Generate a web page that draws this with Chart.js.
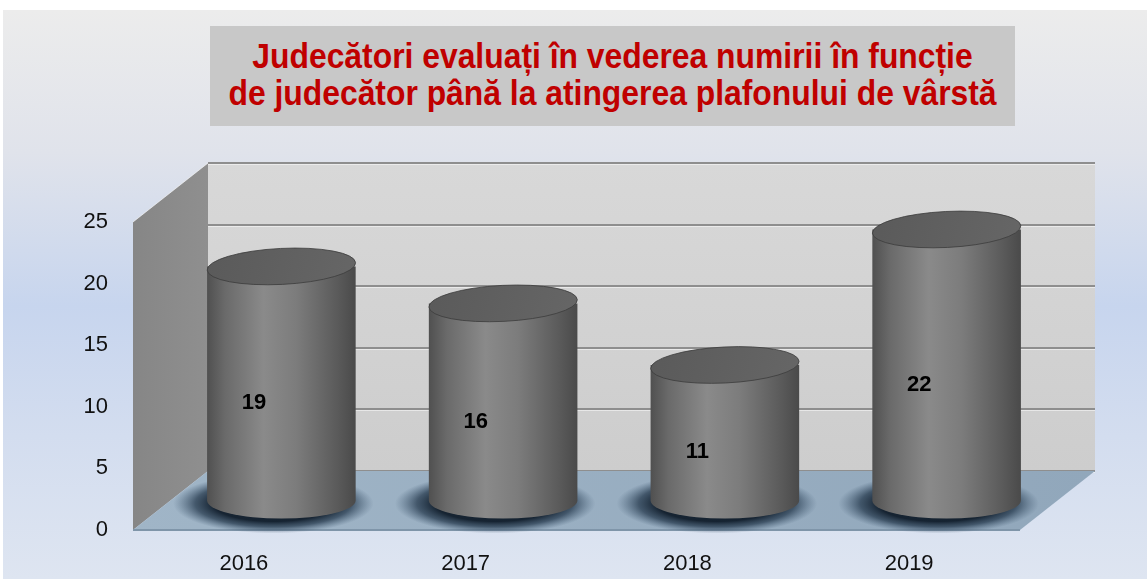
<!DOCTYPE html>
<html>
<head>
<meta charset="utf-8">
<title>Judecători evaluați</title>
<script src="https://cdn.jsdelivr.net/npm/chart.js@4.4.0/dist/chart.umd.min.js"></script>
<style>
    html, body { margin: 0; padding: 0; background: #fff; width: 1147px; height: 579px; overflow: hidden; }
    #bg {
        position: absolute; left: 3px; top: 10px; width: 1144px; height: 569px;
        background: linear-gradient(to bottom, #ececec 0%, #e0e3eb 25%, #c7d5ee 52%, #d3ddef 75%, #dee5f1 100%);
    }
    #holder { position: absolute; left: 0; top: 0; width: 1147px; height: 579px; }
    #title {
        position: absolute; left: 210px; top: 26px; width: 805px; height: 100px;
        background: #c8c8c8; overflow: hidden;
    }
    #title div {
        position: absolute; left: -40px; top: 11px; width: 885px;
        color: #c00000; text-align: center;
        font-family: 'Liberation Sans', sans-serif;
        font-weight: bold; font-size: 35px; line-height: 37px;
        transform: scaleX(0.91); transform-origin: 50% 0;
    }
</style>
</head>
<body>
<div id="bg"></div>
<div id="holder"><canvas id="JudgesChart" width="1147" height="579"></canvas></div>
<div id="title"><div>Judecători evaluați în vederea numirii în funcție<br>de judecător până la atingerea plafonului de vârstă</div></div>
<script>
const years = ['2016', '2017', '2018', '2019'];
const judges = [19, 16, 11, 22];
const yTicks = [0, 5, 10, 15, 20, 25];

// depth of the fake 3D box
const DX = 75;
const DY = -59;

const scene3d = {
    id: 'scene3d',
    beforeDatasetsDraw(chart) {
        const { ctx, chartArea: a, scales: { y } } = chart;
        const top = y.getPixelForValue(yTicks[yTicks.length - 1]);
        const bottom = y.getPixelForValue(0);
        ctx.save();

        // back wall
        let g = ctx.createLinearGradient(0, top + DY, 0, bottom + DY);
        g.addColorStop(0, '#d8d8d8');
        g.addColorStop(1, '#cdcdcd');
        ctx.fillStyle = g;
        ctx.fillRect(a.left + DX, top + DY, a.right - a.left, bottom - top);

        // gridlines on the back wall
        yTicks.forEach(v => {
            const py = Math.round(y.getPixelForValue(v) + DY);
            ctx.fillStyle = '#8e8e8e';
            ctx.fillRect(a.left + DX, py - 1, a.right - a.left, 2);
            ctx.fillStyle = 'rgba(255,255,255,0.5)';
            ctx.fillRect(a.left + DX, py + 1, a.right - a.left, 1);
        });

        // left wall
        g = ctx.createLinearGradient(a.left, 0, a.left + DX, 0);
        g.addColorStop(0, '#868686');
        g.addColorStop(1, '#8f8f8f');
        ctx.fillStyle = g;
        ctx.beginPath();
        ctx.moveTo(a.left, top);
        ctx.lineTo(a.left + DX, top + DY);
        ctx.lineTo(a.left + DX, bottom + DY);
        ctx.lineTo(a.left, bottom);
        ctx.closePath();
        ctx.fill();
        ctx.strokeStyle = 'rgba(255,255,255,0.6)';
        ctx.lineWidth = 1;
        ctx.beginPath();
        ctx.moveTo(a.left, top);
        ctx.lineTo(a.left + DX, top + DY);
        ctx.stroke();

        // floor
        g = ctx.createLinearGradient(a.left, 0, a.right + DX, 0);
        g.addColorStop(0, '#a0b5c7');
        g.addColorStop(1, '#91a7bb');
        ctx.fillStyle = g;
        ctx.beginPath();
        ctx.moveTo(a.left, bottom);
        ctx.lineTo(a.right, bottom);
        ctx.lineTo(a.right + DX, bottom + DY);
        ctx.lineTo(a.left + DX, bottom + DY);
        ctx.closePath();
        ctx.fill();
        ctx.strokeStyle = '#7f95a9';
        ctx.lineWidth = 2;
        ctx.beginPath();
        ctx.moveTo(a.left, bottom);
        ctx.lineTo(a.right, bottom);
        ctx.stroke();

        ctx.restore();
    },
    afterDatasetsDraw(chart) {
        const { ctx } = chart;
        const bars = chart.getDatasetMeta(0).data;
        const ry = 18;
        ctx.save();

        // soft shadows on the floor
        bars.forEach(el => {
            const cx = el.x + DX / 2 - 8;
            const by = el.base + DY / 2 + 3;
            const rx = el.width / 2 + 26;
            ctx.save();
            ctx.translate(cx, by);
            ctx.scale(1, (ry + 12) / rx);
            const g = ctx.createRadialGradient(0, 0, rx * 0.6, 0, 0, rx);
            g.addColorStop(0, 'rgba(15,28,42,0.95)');
            g.addColorStop(0.45, 'rgba(30,50,70,0.7)');
            g.addColorStop(1, 'rgba(60,85,110,0)');
            ctx.fillStyle = g;
            ctx.beginPath();
            ctx.arc(0, 0, rx, 0, Math.PI * 2);
            ctx.fill();
            ctx.restore();
        });

        // cylinders
        bars.forEach(el => {
            const cx = el.x + DX / 2;
            const rx = el.width / 2;
            const ty = el.y + DY / 2;
            const by = el.base + DY / 2;

            let g = ctx.createLinearGradient(cx - rx, 0, cx + rx, 0);
            g.addColorStop(0, '#505050');
            g.addColorStop(0.12, '#6a6a6a');
            g.addColorStop(0.38, '#8a8a8a');
            g.addColorStop(0.6, '#7c7c7c');
            g.addColorStop(0.88, '#5a5a5a');
            g.addColorStop(1, '#4a4a4a');
            ctx.fillStyle = g;
            ctx.beginPath();
            ctx.moveTo(cx - rx, ty);
            ctx.lineTo(cx - rx, by);
            ctx.ellipse(cx, by, rx, ry, 0, Math.PI, 0, true);
            ctx.lineTo(cx + rx, ty);
            ctx.closePath();
            ctx.fill();

            g = ctx.createLinearGradient(cx - rx, ty - ry, cx + rx, ty + ry);
            g.addColorStop(0, '#5a5a5a');
            g.addColorStop(1, '#666666');
            ctx.fillStyle = g;
            ctx.beginPath();
            ctx.ellipse(cx, ty, rx, ry, -0.05, 0, Math.PI * 2);
            ctx.fill();
            ctx.strokeStyle = 'rgba(60,60,60,0.8)';
            ctx.lineWidth = 1;
            ctx.stroke();
        });

        // value labels
        ctx.fillStyle = '#000';
        ctx.font = 'bold 22px "Liberation Sans", sans-serif';
        ctx.textAlign = 'center';
        ctx.textBaseline = 'middle';
        bars.forEach((el, i) => {
            ctx.fillText(judges[i], el.x + 10, (el.y + el.base) / 2 - 10);
        });

        ctx.restore();
    }
};

const canvas = document.getElementById('JudgesChart').getContext('2d');

new Chart(canvas, {
    type: 'bar',
    data: {
        labels: years,
        datasets: [
            {
                label: 'Judecători',
                data: judges,
                backgroundColor: 'rgba(0,0,0,0)',
                borderWidth: 0,
                categoryPercentage: 1,
                barPercentage: 0.67
            }
        ]
    },
    plugins: [scene3d],
    options: {
        responsive: false,
        animation: false,
        layout: {
            padding: { top: 222, right: 127, left: 0, bottom: 0 }
        },
        plugins: {
            legend: { display: false },
            tooltip: { enabled: false },
            title: { display: false }
        },
        scales: {
            y: {
                min: 0,
                max: 25,
                afterFit: s => { s.width = 133; },
                grid: { display: false },
                border: { display: false },
                ticks: {
                    stepSize: 5,
                    padding: 17,
                    color: '#111',
                    font: { family: 'Liberation Sans', size: 22 }
                }
            },
            x: {
                afterFit: s => { s.height = 49; },
                grid: { display: false },
                border: { display: false },
                ticks: {
                    padding: 13,
                    color: '#111',
                    font: { family: 'Liberation Sans', size: 22 }
                }
            }
        }
    }
});
</script>
</body>
</html>
